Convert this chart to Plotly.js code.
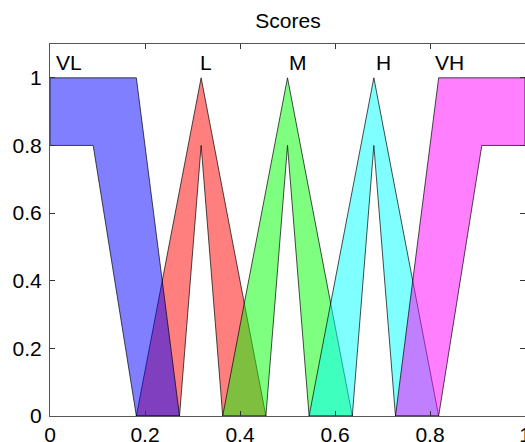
<!DOCTYPE html>
<html>
<head>
<meta charset="utf-8">
<script src="https://cdn.plot.ly/plotly-3.0.1.min.js"></script>
<style>
html,body{margin:0;padding:0;overflow:hidden;background:#fff;width:525px;height:442px;}
#chart{width:531px;height:442px;}
</style>
</head>
<body>
<div id="chart"></div>
<script>
// Fuzzy-set words (interval type-2): upper and lower membership functions
var words = ["VL", "L", "M", "H", "VH"];

var vlUpperX = [0, 0.1818, 0.2727];
var vlUpperY = [1, 1, 0];
var vlLowerX = [0, 0.0909, 0.1818];
var vlLowerY = [0.8, 0.8, 0];

var lUpperX = [0.1818, 0.3182, 0.4545];
var lUpperY = [0, 1, 0];
var lLowerX = [0.2727, 0.3182, 0.3636];
var lLowerY = [0, 0.8, 0];

var mUpperX = [0.3636, 0.5, 0.6364];
var mUpperY = [0, 1, 0];
var mLowerX = [0.4545, 0.5, 0.5455];
var mLowerY = [0, 0.8, 0];

var hUpperX = [0.5455, 0.6818, 0.8182];
var hUpperY = [0, 1, 0];
var hLowerX = [0.6364, 0.6818, 0.7273];
var hLowerY = [0, 0.8, 0];

var vhUpperX = [0.7273, 0.8182, 1];
var vhUpperY = [0, 1, 1];
var vhLowerX = [0.8182, 0.9091, 1];
var vhLowerY = [0, 0.8, 0.8];

var labelX = [0.01, 0.313, 0.502, 0.684, 0.809];
var labelY = 1.046;

var fillColors = {
  VL: "rgba(0,0,255,0.5)",
  L: "rgba(255,0,0,0.5)",
  M: "rgba(0,255,0,0.5)",
  H: "rgba(0,255,255,0.5)",
  VH: "rgba(255,0,255,0.5)"
};

function fou(name, ux, uy, lx, ly) {
  var xs = ux.slice(), ys = uy.slice();
  for (var i = lx.length - 1; i >= 0; i--) { xs.push(lx[i]); ys.push(ly[i]); }
  xs.push(ux[0]); ys.push(uy[0]);
  return {
    type: "scatter", mode: "lines", x: xs, y: ys, name: name,
    fill: "toself", fillcolor: fillColors[name],
    line: {color: "#000", width: 0.7},
    hoverinfo: "skip", showlegend: false
  };
}

// drawing order chosen so overlaps blend like the reference
var data = [
  fou("L", lUpperX, lUpperY, lLowerX, lLowerY),
  fou("VL", vlUpperX, vlUpperY, vlLowerX, vlLowerY),
  fou("M", mUpperX, mUpperY, mLowerX, mLowerY),
  fou("H", hUpperX, hUpperY, hLowerX, hLowerY),
  fou("VH", vhUpperX, vhUpperY, vhLowerX, vhLowerY)
];

var annotations = words.map(function (w, i) {
  return {
    x: labelX[i], y: labelY, xref: "x", yref: "y", text: w,
    showarrow: false, xanchor: "left", yanchor: "middle",
    borderpad: 0, font: {family: "Liberation Sans, Arial, sans-serif", size: 21, color: "#000"}
  };
});

var axisCommon = {
  showgrid: false, zeroline: false, showline: true, mirror: "ticks",
  linecolor: "#555", linewidth: 1, ticks: "inside", ticklen: 5, tickcolor: "#333",
  tickfont: {family: "Liberation Sans, Arial, sans-serif", size: 21, color: "#000"},
  dtick: 0.2, tick0: 0, fixedrange: true
};

var layout = {
  width: 531, height: 442,
  margin: {l: 50, r: 6, t: 44, b: 26, pad: 0},
  paper_bgcolor: "#fff", plot_bgcolor: "#fff",
  title: {text: "Scores", x: 0.5424, xanchor: "center", y: 0.9525, yanchor: "middle",
          font: {family: "Liberation Sans, Arial, sans-serif", size: 21, color: "#000"}},
  xaxis: Object.assign({}, axisCommon, {range: [0, 1], ticklabelstandoff: 0}),
  yaxis: Object.assign({}, axisCommon, {range: [0, 1.1], ticklabelstandoff: 3}),
  annotations: annotations,
  showlegend: false
};

Plotly.newPlot("chart", data, layout, {displayModeBar: false, staticPlot: true});
</script>
</body>
</html>
